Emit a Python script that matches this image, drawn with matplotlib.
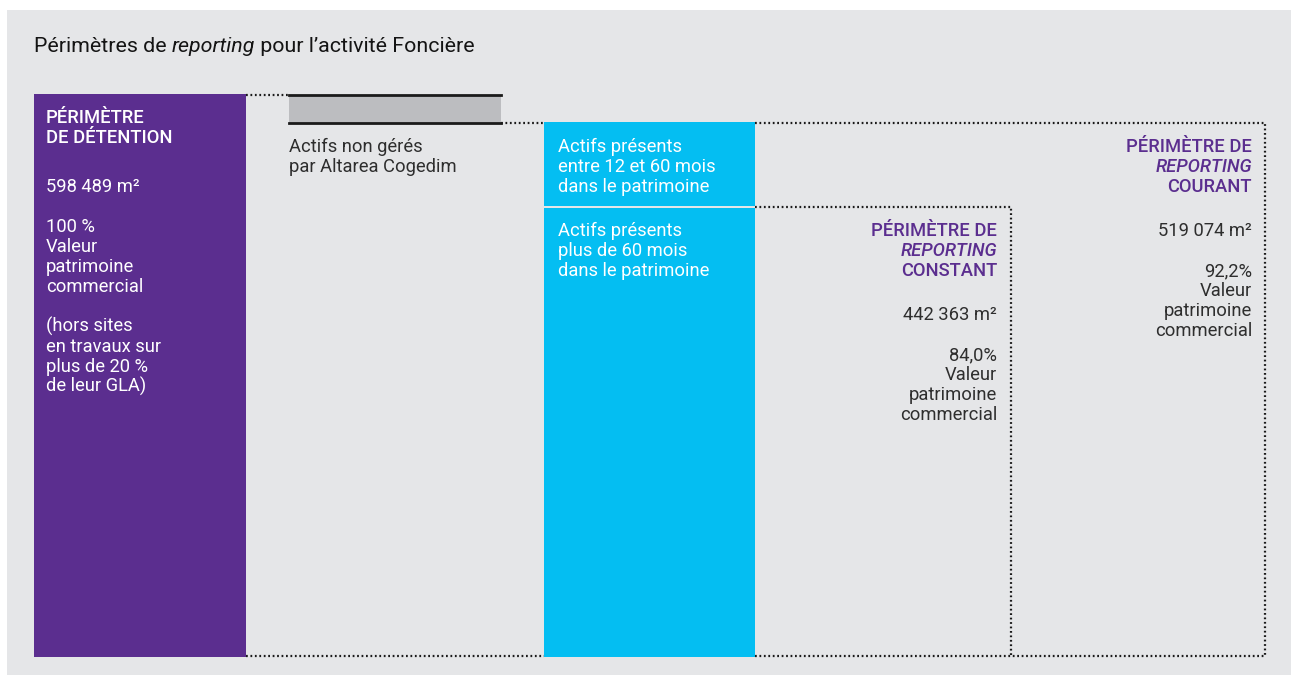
import matplotlib.pyplot as plt
from matplotlib.patches import Rectangle

plt.rcParams['font.family'] = ['Roboto', 'DejaVu Sans']

# surfaces (m2) and share of the commercial asset value (%)
perimetres = ['détention', 'constant', 'courant']
surfaces = [598489, 442363, 519074]
parts_valeur = [100.0, 84.0, 92.2]

texte_non_geres = ['Actifs non gérés', 'par Altarea Cogedim']
texte_12_60 = ['Actifs présents', 'entre 12 et 60 mois', 'dans le patrimoine']
texte_60 = ['Actifs présents', 'plus de 60 mois', 'dans le patrimoine']
texte_valeur = ['Valeur', 'patrimoine', 'commercial']
texte_hors = ['(hors sites', 'en travaux sur', 'plus de 20 %', 'de leur GLA)']

VIOLET = '#5B2E8F'
CYAN = '#04BEF2'
GRIS = '#BCBDC0'
FOND = '#E5E6E8'
TEXTE = '#2E2E2E'
FS = 13.2
LH = 20


def fmt_surface(v):
    return '{:,}'.format(v).replace(',', ' ') + ' m²'


def fmt_pct(v, espace=''):
    return ('{:.1f}'.format(v).replace('.', ',') if v != 100 else '100') + espace + '%'


def lignes(ax, x, y0, txts, **kw):
    for i, t in enumerate(txts):
        ax.text(x, y0 + i * LH, t, va='baseline', fontsize=FS, **kw)


def dotted(ax, xs, ys):
    ax.plot(xs, ys, color='#1A1A1A', lw=1.6, linestyle=(0, (0.8, 1.2)),
            solid_capstyle='butt', dash_capstyle='butt')


fig = plt.figure(figsize=(12.91, 6.75), dpi=100)
ax = fig.add_axes([0, 0, 1, 1])
ax.set_xlim(0, 1291)
ax.set_ylim(675, 0)
ax.axis('off')

ax.add_patch(Rectangle((7, 10), 1284, 665, color=FOND, lw=0))

# title with italic word
t1 = ax.text(34, 52, 'Périmètres de ', fontsize=15.4, color='#141414', va='baseline')
t2 = ax.annotate('reporting', xy=(1, 0), xycoords=t1, va='bottom', fontsize=15.4,
                 color='#141414', style='italic')
ax.annotate(' pour l’activité Foncière', xy=(1, 0), xycoords=t2, va='bottom',
            fontsize=15.4, color='#141414')

# blocks
ax.add_patch(Rectangle((34, 94), 212, 563, color=VIOLET, lw=0))
ax.add_patch(Rectangle((289, 95), 212, 28, color=GRIS, lw=0))
ax.plot([289, 501], [95, 95], color='#1A1A1A', lw=2)
ax.plot([289, 501], [123, 123], color='#1A1A1A', lw=2)
ax.add_patch(Rectangle((544, 122), 211, 84, color=CYAN, lw=0))
ax.add_patch(Rectangle((544, 208), 211, 449, color=CYAN, lw=0))

# dotted perimeters
dotted(ax, [246, 289], [95, 95])
dotted(ax, [501, 544], [123, 123])
dotted(ax, [755, 1265, 1265], [123, 123, 656])
dotted(ax, [755, 1011, 1011], [207, 207, 656])
dotted(ax, [246, 544], [656, 656])
dotted(ax, [755, 1265], [656, 656])

# détention
lignes(ax, 46, 123, ['PÉRIMÈTRE', 'DE DÉTENTION'], color='white', fontweight='medium')
lignes(ax, 46, 192, [fmt_surface(surfaces[0])], color='white')
lignes(ax, 46, 232, [fmt_pct(parts_valeur[0], ' ')] + texte_valeur, color='white')
lignes(ax, 46, 332, texte_hors, color='white')

# non gérés
lignes(ax, 289, 152, texte_non_geres, color=TEXTE)

# actifs présents
lignes(ax, 558, 152, texte_12_60, color='white')
lignes(ax, 558, 236, texte_60, color='white')


def bloc_perimetre(x, y, nom, surface, pct):
    ax.text(x, y, 'PÉRIMÈTRE DE', ha='right', va='baseline', fontsize=FS,
            color=VIOLET, fontweight='medium')
    ax.text(x, y + LH, 'REPORTING', ha='right', va='baseline', fontsize=FS,
            color=VIOLET, fontweight='medium', style='italic')
    ax.text(x, y + 2 * LH, nom, ha='right', va='baseline', fontsize=FS,
            color=VIOLET, fontweight='medium')
    lignes(ax, x, y + 84, [fmt_surface(surface)], color=TEXTE, ha='right')
    lignes(ax, x, y + 124, [fmt_pct(pct)] + texte_valeur, color=TEXTE, ha='right')


bloc_perimetre(997, 236, 'CONSTANT', surfaces[1], parts_valeur[1])
bloc_perimetre(1252, 152, 'COURANT', surfaces[2], parts_valeur[2])

fig.savefig('out.png', dpi=100, facecolor='white')
